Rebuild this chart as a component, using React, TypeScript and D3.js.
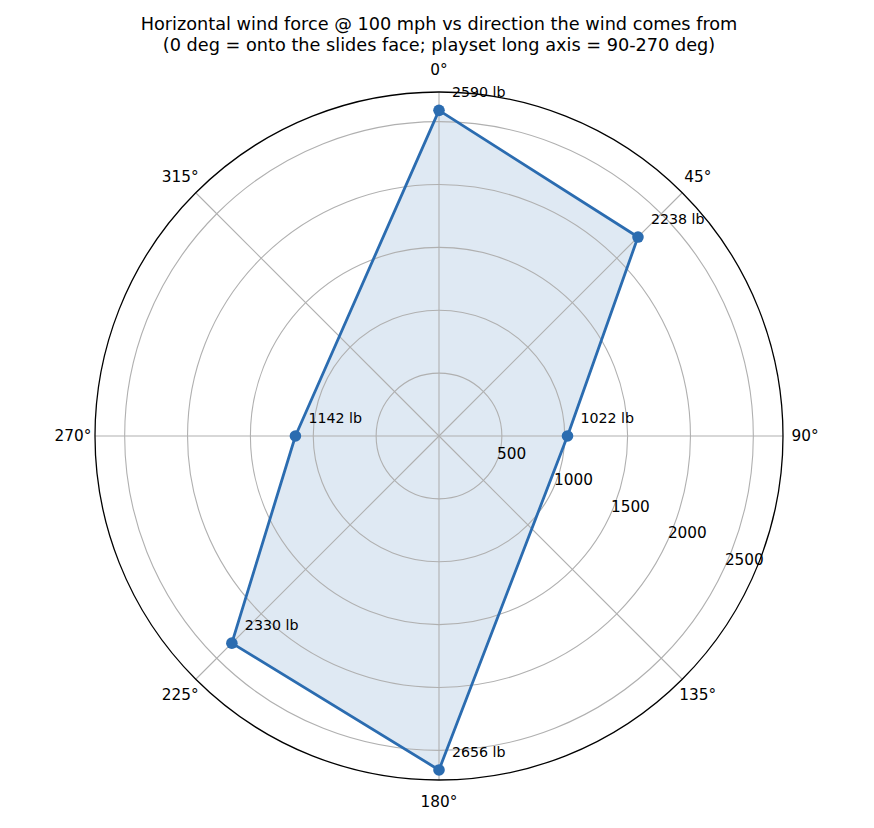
import { useEffect, useRef } from 'react';
import * as d3 from 'd3';

// wind direction (deg, clockwise from the slides face) and force in lb
const directions = [0, 45, 90, 180, 225, 270];
const forces = [2590, 2238, 1022, 2656, 2330, 1142];
const radialTicks = [500, 1000, 1500, 2000, 2500];
const angleTicks = [0, 45, 90, 135, 180, 225, 270, 315];
const titleLines = [
  'Horizontal wind force @ 100 mph vs direction the wind comes from',
  '(0 deg = onto the slides face; playset long axis = 90-270 deg)',
];

const WIDTH = 874;
const HEIGHT = 828;
const FONT = 'DejaVu Sans, sans-serif';
const BLUE = '#2b6cb0';

export default function App() {
  const svgRef = useRef<SVGSVGElement>(null);

  useEffect(() => {
    document.body.style.margin = '0';
    if (!svgRef.current) return;

    const svg = d3.select(svgRef.current);
    svg.selectAll('*').remove();

    const cx = 439;
    const cy = 436;
    const outerR = 344;
    const rMax = 2736;

    const r = d3.scaleLinear().domain([0, rMax]).range([0, outerR]);
    const toRad = (deg: number) => (deg * Math.PI) / 180;

    const data = directions.map((d, i) => ({ angle: d, value: forces[i] }));

    const g = svg.append('g').attr('transform', `translate(${cx},${cy})`);

    // filled polygon
    const line = d3
      .lineRadial<{ angle: number; value: number }>()
      .angle((d) => toRad(d.angle))
      .radius((d) => r(d.value))
      .curve(d3.curveLinearClosed);

    g.append('path')
      .datum(data)
      .attr('d', line)
      .attr('fill', BLUE)
      .attr('fill-opacity', 0.15)
      .attr('stroke', 'none');

    // grid circles
    g.selectAll('.grid-circle')
      .data(radialTicks)
      .enter()
      .append('circle')
      .attr('class', 'grid-circle')
      .attr('r', (d) => r(d))
      .attr('fill', 'none')
      .attr('stroke', '#b0b0b0')
      .attr('stroke-width', 1.1);

    // spokes
    g.selectAll('.spoke')
      .data(angleTicks)
      .enter()
      .append('line')
      .attr('class', 'spoke')
      .attr('x1', 0)
      .attr('y1', 0)
      .attr('x2', (d) => d3.pointRadial(toRad(d), outerR)[0])
      .attr('y2', (d) => d3.pointRadial(toRad(d), outerR)[1])
      .attr('stroke', '#b0b0b0')
      .attr('stroke-width', 1.1);

    // outer frame
    g.append('circle')
      .attr('r', outerR)
      .attr('fill', 'none')
      .attr('stroke', '#000')
      .attr('stroke-width', 1.3);

    // outline
    g.append('path')
      .datum(data)
      .attr('d', line)
      .attr('fill', 'none')
      .attr('stroke', BLUE)
      .attr('stroke-width', 2.8)
      .attr('stroke-linejoin', 'round');

    // markers
    g.selectAll('.marker')
      .data(data)
      .enter()
      .append('circle')
      .attr('class', 'marker')
      .attr('cx', (d) => d3.pointRadial(toRad(d.angle), r(d.value))[0])
      .attr('cy', (d) => d3.pointRadial(toRad(d.angle), r(d.value))[1])
      .attr('r', 5.8)
      .attr('fill', BLUE);

    // value labels
    g.selectAll('.value-label')
      .data(data)
      .enter()
      .append('text')
      .attr('class', 'value-label')
      .attr('x', (d) => d3.pointRadial(toRad(d.angle), r(d.value))[0] + 13)
      .attr('y', (d) => d3.pointRadial(toRad(d.angle), r(d.value))[1] - 13)
      .attr('font-family', FONT)
      .attr('font-size', '14.2px')
      .attr('fill', '#000')
      .text((d) => `${d.value} lb`);

    // angle tick labels
    g.selectAll('.angle-label')
      .data(angleTicks)
      .enter()
      .append('text')
      .attr('class', 'angle-label')
      .attr('x', (d) => d3.pointRadial(toRad(d), outerR + 22)[0])
      .attr('y', (d) => d3.pointRadial(toRad(d), outerR + 22)[1])
      .attr('text-anchor', 'middle')
      .attr('dominant-baseline', 'central')
      .attr('font-family', FONT)
      .attr('font-size', '15.3px')
      .attr('fill', '#000')
      .text((d) => `${d}°`);

    // radial tick labels
    const labelAngle = toRad(115);
    g.selectAll('.radial-label')
      .data(radialTicks)
      .enter()
      .append('text')
      .attr('class', 'radial-label')
      .attr('x', (d) => d3.pointRadial(labelAngle, r(d))[0] + 1)
      .attr('y', (d) => d3.pointRadial(labelAngle, r(d))[1] - 4)
      .attr('font-family', FONT)
      .attr('font-size', '15.3px')
      .attr('fill', '#000')
      .text((d) => `${d}`);

    // title
    svg
      .append('text')
      .attr('x', cx)
      .attr('y', 30)
      .attr('text-anchor', 'middle')
      .attr('font-family', FONT)
      .attr('font-size', '17.7px')
      .attr('fill', '#000')
      .selectAll('tspan')
      .data(titleLines)
      .enter()
      .append('tspan')
      .attr('x', cx)
      .attr('dy', (_d, i) => (i === 0 ? 0 : 21))
      .text((d) => d);
  }, []);

  return (
    <div style={{ position: 'absolute', left: 0, top: 0 }}>
      <svg ref={svgRef} width={WIDTH} height={HEIGHT} style={{ display: 'block', background: '#fff' }} />
    </div>
  );
}
